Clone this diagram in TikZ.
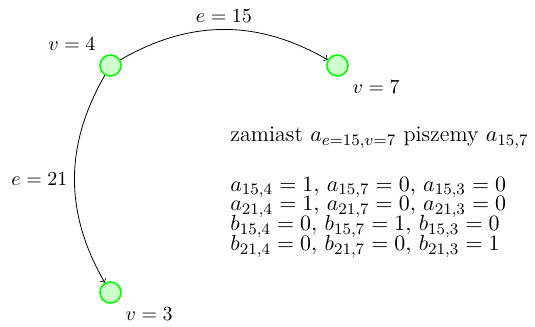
\documentclass[tikz,border=0pt]{standalone}
\usepackage{amsmath}
\usepackage{tikz}
\usetikzlibrary{positioning}

\begin{document}
\begin{tikzpicture}[x=0.01757cm,y=0.01757cm,>=to,
    vert/.style={circle,draw=green,fill=green!20,thick,minimum size=10.5pt,inner sep=0pt},
    txt/.style={anchor=base west,inner sep=0pt,font=\fontsize{11.1}{12}\selectfont}]
  \useasboundingbox (0,0) rectangle (535,327);
  % vertices
  \node[vert] (v4) at (110.5,261.5) {};
  \node[vert] (v7) at (337.5,261.5) {};
  \node[vert] (v3) at (110.5,34.5) {};
  \node[above left=0pt of v4] (l4) {$v=4$};
  \node[below right=0pt of v7] (l7) {$v=7$};
  \node[below right=0pt of v3] (l3) {$v=3$};
  % edges
  \draw[->] (v4) to[bend left=30] node[above] (e15) {$e=15$} (v7);
  \draw[->] (v4) to[bend right=30] node[left] (e21) {$e=21$} (v3);
  % notation
  \node[txt] (t0) at (230,185) {zamiast $a_{e=15,v=7}$ piszemy $a_{15,7}$};
  \node[txt] (t1) at (230,135.5) {$a_{15,4}=1,\, a_{15,7}=0,\, a_{15,3}=0$};
  \node[txt] (t2) at (230,116) {$a_{21,4}=1,\, a_{21,7}=0,\, a_{21,3}=0$};
  \node[txt] (t3) at (230,96) {$b_{15,4}=0,\, b_{15,7}=1,\, b_{15,3}=0$};
  \node[txt] (t4) at (230,76) {$b_{21,4}=0,\, b_{21,7}=0,\, b_{21,3}=1$};
\end{tikzpicture}
\end{document}
